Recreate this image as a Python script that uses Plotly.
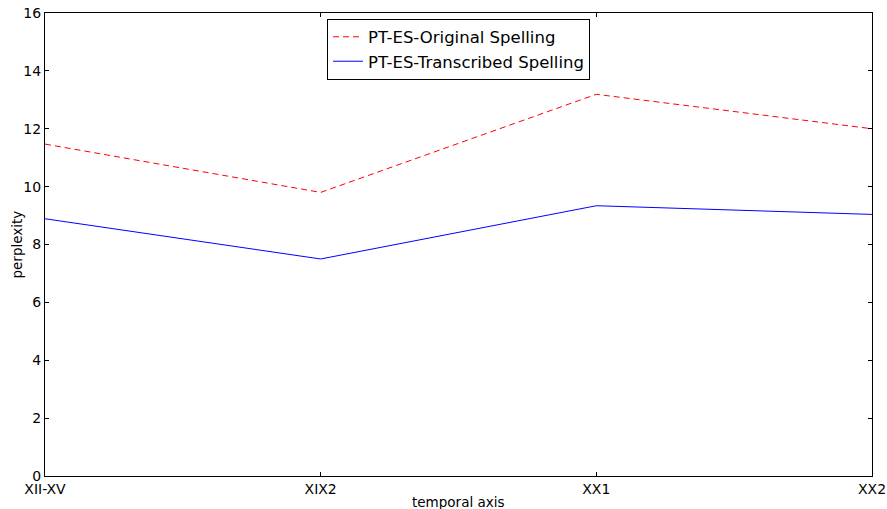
import plotly.graph_objects as go

# Perplexity per period for the two spelling variants
periods = ["XII-XV", "XIX2", "XX1", "XX2"]
original_spelling = [11.47, 9.80, 13.19, 12.00]
transcribed_spelling = [8.89, 7.50, 9.34, 9.04]
y_ticks = [0, 2, 4, 6, 8, 10, 12, 14, 16]

FONT = "DejaVu Sans"

fig = go.Figure()
fig.add_trace(go.Scatter(
    x=periods, y=original_spelling, mode="lines",
    name="PT-ES-Original Spelling",
    line=dict(color="#ff0000", width=1, dash="6px,4px"),
))
fig.add_trace(go.Scatter(
    x=periods, y=transcribed_spelling, mode="lines",
    name="PT-ES-Transcribed Spelling",
    line=dict(color="#0000ff", width=1),
))

axis_common = dict(
    showline=True, linecolor="black", linewidth=1, mirror="allticks",
    ticks="inside", ticklen=4, tickcolor="black", tickwidth=1,
    showgrid=False, zeroline=False, automargin=False,
    tickfont=dict(family=FONT, size=14, color="black"),
)

fig.update_xaxes(type="category", range=[0, 3], **axis_common)
fig.update_yaxes(range=[0, 16], tickvals=y_ticks, **axis_common)

fig.update_layout(
    width=887, height=509,
    margin=dict(l=45, r=15, t=13, b=33),
    paper_bgcolor="white", plot_bgcolor="white",
    font=dict(family=FONT, color="black"),
    showlegend=True,
    legend=dict(
        x=0.5, xanchor="center", y=0.988, yanchor="top",
        bordercolor="black", borderwidth=1, bgcolor="white",
        font=dict(family=FONT, size=16.5, color="black"),
    ),
    annotations=[
        dict(text="temporal axis", xref="paper", yref="paper",
             x=0.5, y=0, yshift=-26, xanchor="center", yanchor="middle",
             showarrow=False, font=dict(family=FONT, size=13.5)),
        dict(text="perplexity", xref="paper", yref="paper",
             x=0, y=0.5, xshift=-29, xanchor="center", yanchor="middle",
             textangle=-90, showarrow=False, font=dict(family=FONT, size=13.5)),
    ],
)

fig.write_html("out.html")
